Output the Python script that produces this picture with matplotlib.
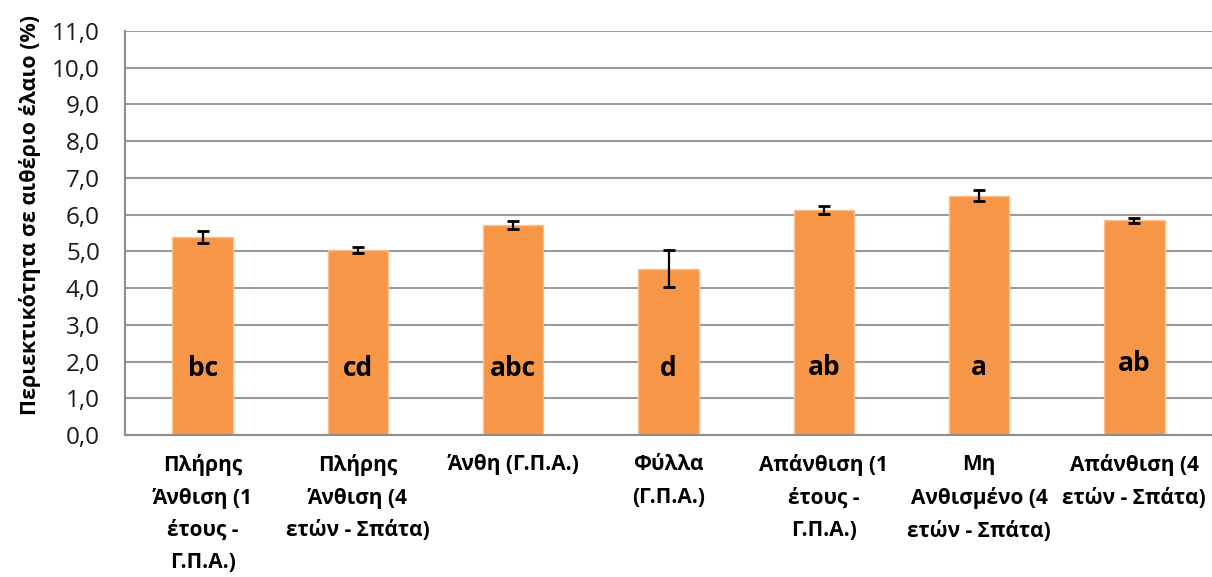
import matplotlib
matplotlib.use("Agg")
import matplotlib.pyplot as plt
import numpy as np

plt.rcParams['font.family'] = ['Open Sans', 'DejaVu Sans']

categories = [
    "Πλήρης\nΆνθιση (1\nέτους -\nΓ.Π.Α.)",
    "Πλήρης\nΆνθιση (4\nετών - Σπάτα)",
    "Άνθη (Γ.Π.Α.)",
    "Φύλλα\n(Γ.Π.Α.)",
    "Απάνθιση (1\nέτους -\nΓ.Π.Α.)",
    "Μη\nΑνθισμένο (4\nετών - Σπάτα)",
    "Απάνθιση (4\nετών - Σπάτα)",
]
values = [5.40, 5.03, 5.73, 4.53, 6.12, 6.52, 5.85]
errors = [0.16, 0.08, 0.11, 0.50, 0.11, 0.16, 0.07]
groups = ["bc", "cd", "abc", "d", "ab", "a", "ab"]
yticks = [0, 1, 2, 3, 4, 5, 6, 7, 8, 9, 10, 11]
ylabel = "Περιεκτικότητα σε αιθέριο έλαιο (%)"

fig = plt.figure(figsize=(12.12, 5.77), dpi=100)
ax = fig.add_axes([125 / 1212, 1 - 435 / 577, 1 - 125 / 1212, (435 - 31) / 577])

x = np.arange(len(categories))
ax.bar(x, values, width=0.39, color="#F79646", edgecolor="#FAC090",
       linewidth=1.0, zorder=2)
ax.errorbar(x, values, yerr=errors, fmt="none", ecolor="black",
            elinewidth=1.6, capsize=4.5, capthick=2.0, zorder=3)

label_heights = [1.8, 1.8, 1.8, 1.8, 1.85, 1.85, 1.95]
for xi, g, h in zip(x, groups, label_heights):
    ax.text(xi, h, g, ha="center", va="center", fontsize=19,
            fontweight="bold", color="black", zorder=4)

ax.set_xlim(-0.5, len(categories) - 0.5)
ax.set_ylim(0, 11)
ax.set_yticks(yticks)
ax.set_yticklabels([f"{t:.1f}".replace(".", ",") for t in yticks],
                   fontsize=17.5, color="#1a1a1a")
ax.set_xticks(x)
ax.set_xticklabels(categories, fontsize=15, fontweight="bold",
                   linespacing=1.7, va="top")
ax.tick_params(axis="x", length=0, pad=14)
ax.tick_params(axis="y", length=0, pad=18)

ax.yaxis.grid(True, color="#9a9a9a", linewidth=1.5, zorder=0)
ax.set_axisbelow(True)
for side in ("top", "right"):
    ax.spines[side].set_visible(False)
for side in ("left", "bottom"):
    ax.spines[side].set_color("#8c8c8c")
    ax.spines[side].set_linewidth(1.5)

ax.set_ylabel(ylabel, fontsize=15.5, fontweight="bold")
ax.yaxis.set_label_coords(-0.077, 0.545)

fig.savefig("out.png", dpi=100)
